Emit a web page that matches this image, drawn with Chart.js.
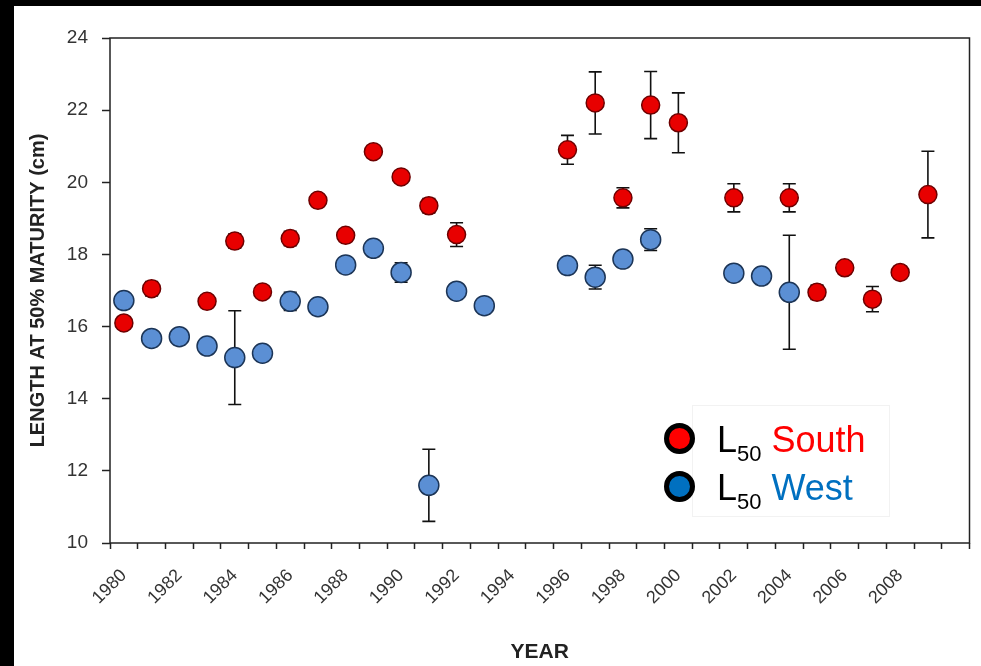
<!DOCTYPE html>
<html>
<head>
<meta charset="utf-8">
<script src="https://cdn.jsdelivr.net/npm/chart.js@4.4.1/dist/chart.umd.min.js"></script>
<style>
body { margin: 0; background: #000; width: 981px; height: 666px; overflow: hidden; position: relative; }
#wrap { position: absolute; left: 14px; top: 6px; width: 967px; height: 660px; background: #fff; }
#legendBox { position: absolute; left: 678px; top: 399px; width: 196px; height: 110px; border: 1px solid #f2f2f2; }
.row { position: absolute; left: 650px; height: 40px; font-family: "Liberation Sans", Arial, sans-serif; font-size: 36px; line-height: 40px; white-space: nowrap; }
.dot { display: inline-block; width: 21px; height: 21px; border: 5px solid #000; border-radius: 50%; margin-right: 22px; vertical-align: -2px; }
.row sub { font-size: 22px; line-height: 0; vertical-align: -9px; margin-right: 10px; }
</style>
</head>
<body>
<div id="wrap">
  <canvas id="scatterChart" width="967" height="660"></canvas>
  <div id="legendBox"></div>
  <div class="row" style="top:414px;"><span class="dot" style="background:#ff0000;"></span>L<sub>50</sub><span style="color:#ff0000;">South</span></div>
  <div class="row" style="top:462px;"><span class="dot" style="background:#0070c0;"></span>L<sub>50</sub><span style="color:#0070c0;">West</span></div>
</div>
<script>
var years = ['1980','1981','1982','1983','1984','1985','1986','1987','1988','1989',
             '1990','1991','1992','1993','1994','1995','1996','1997','1998','1999',
             '2000','2001','2002','2003','2004','2005','2006','2007','2008','2009','2010'];

var southL50 = [16.1, 17.05, null, 16.7, 18.37, 16.96, 18.44, 19.5, 18.53, 20.85,
                20.15, 19.35, 18.55, null, null, null, 20.9, 22.2, 19.57, 22.14,
                21.65, null, 19.57, null, 19.57, 16.95, 17.63, 16.76, 17.5, 19.66, null];
var southErr = [0, 0.2, 0, 0, 0.2, 0, 0.2, 0, 0, 0,
                0, 0.2, 0.33, 0, 0, 0, 0.4, 0.86, 0.28, 0.93,
                0.83, 0, 0.39, 0, 0.39, 0.2, 0, 0.35, 0, 1.2, 0];

var westL50 = [16.72, 15.67, 15.72, 15.46, 15.14, 15.26, 16.7, 16.55, 17.71, 18.17,
               17.5, 11.6, 16.98, 16.58, null, null, 17.69, 17.37, 17.87, 18.41,
               null, null, 17.48, 17.4, 16.95, null, null, null, null, null, null];
var westErr = [0, 0, 0, 0, 1.3, 0, 0.25, 0, 0, 0,
               0.27, 1.0, 0, 0, 0, 0, 0, 0.33, 0, 0.3,
               0, 0, 0.18, 0, 1.58, 0, 0, 0, 0, 0, 0];

var yTicks = [10, 12, 14, 16, 18, 20, 22, 24];
var shownYears = ['1980','1982','1984','1986','1988','1990','1992','1994','1996','1998','2000','2002','2004','2006','2008'];

// error bars, drawn under the markers
var errorBars = {
    id: 'errorBars',
    beforeDatasetsDraw: function(chart){
        var ctx = chart.ctx;
        var yScale = chart.scales.y;
        ctx.save();
        ctx.strokeStyle = '#111';
        ctx.lineWidth = 1.6;
        chart.data.datasets.forEach(function(ds, di){
            var meta = chart.getDatasetMeta(di);
            ds.errors.forEach(function(e, i){
                var v = ds.data[i];
                if(v === null || !e) return;
                var x = meta.data[i].x;
                var yTop = yScale.getPixelForValue(v + e);
                var yBot = yScale.getPixelForValue(v - e);
                ctx.beginPath();
                ctx.moveTo(x, yTop); ctx.lineTo(x, yBot);
                ctx.moveTo(x - 6.5, yTop); ctx.lineTo(x + 6.5, yTop);
                ctx.moveTo(x - 6.5, yBot); ctx.lineTo(x + 6.5, yBot);
                ctx.stroke();
            });
        });
        ctx.restore();
    }
};

// box round the plot area
var plotFrame = {
    id: 'plotFrame',
    afterDraw: function(chart){
        var a = chart.chartArea;
        var ctx = chart.ctx;
        ctx.save();
        ctx.strokeStyle = '#222';
        ctx.lineWidth = 1.5;
        ctx.strokeRect(a.left, a.top, a.right - a.left, a.bottom - a.top);
        ctx.restore();
    }
};

var canvas = document.getElementById('scatterChart');
var scatterChart = new Chart(canvas.getContext('2d'), {
    type: 'line',
    data: {
        labels: years,
        datasets: [{
            label: 'L50 West',
            data: westL50,
            errors: westErr,
            showLine: false,
            pointRadius: 10,
            pointHoverRadius: 10,
            pointBackgroundColor: '#5b8fd4',
            pointBorderColor: '#1c3557',
            pointBorderWidth: 1.5
        }, {
            label: 'L50 South',
            data: southL50,
            errors: southErr,
            showLine: false,
            pointRadius: 9,
            pointHoverRadius: 9,
            pointBackgroundColor: '#e80000',
            pointBorderColor: '#6e0000',
            pointBorderWidth: 1.5
        }]
    },
    options: {
        responsive: false,
        animation: false,
        layout: { padding: { left: 0, top: 32, right: 11, bottom: 0 } },
        plugins: {
            legend: { display: false },
            tooltip: { enabled: false }
        },
        scales: {
            x: {
                type: 'category',
                offset: true,
                afterFit: function(s){ s.height = 123; s.paddingLeft = 0; s.paddingRight = 0; },
                grid: { offset: true, drawOnChartArea: false, drawTicks: true, tickLength: 6, tickColor: '#222', tickWidth: 1.5 },
                border: { display: false },
                ticks: {
                    autoSkip: false,
                    maxRotation: 45,
                    minRotation: 45,
                    padding: 16,
                    color: '#333',
                    font: { family: 'Liberation Sans', size: 18 },
                    callback: function(val, i){ return shownYears.indexOf(years[i]) >= 0 ? years[i] : ''; }
                },
                title: {
                    display: true,
                    text: 'YEAR',
                    color: '#222',
                    padding: { top: 0, bottom: 1 },
                    font: { family: 'Liberation Sans', size: 21, weight: 'bold' }
                }
            },
            y: {
                min: 10,
                max: 24,
                afterFit: function(s){ s.width = 96; },
                afterBuildTicks: function(s){ s.ticks = yTicks.map(function(v){ return { value: v }; }); },
                grid: { drawOnChartArea: false, drawTicks: true, tickLength: 8, tickColor: '#222', tickWidth: 1.5 },
                border: { display: false },
                ticks: {
                    padding: 14,
                    color: '#333',
                    font: { family: 'Liberation Sans', size: 19 }
                },
                title: {
                    display: true,
                    text: 'LENGTH AT 50% MATURITY (cm)',
                    color: '#222',
                    padding: { top: 12, bottom: 0 },
                    font: { family: 'Liberation Sans', size: 20, weight: 'bold' }
                }
            }
        }
    },
    plugins: [errorBars, plotFrame]
});
</script>
</body>
</html>
